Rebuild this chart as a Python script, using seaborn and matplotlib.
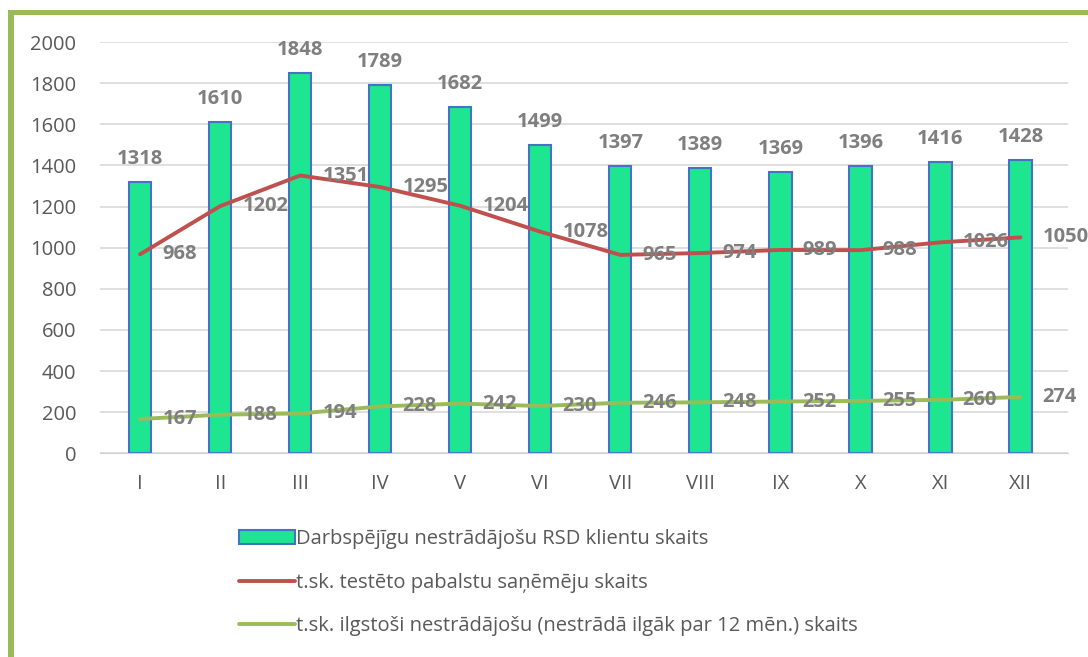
import numpy as np
import matplotlib
matplotlib.use("Agg")
import matplotlib.pyplot as plt
import seaborn as sns
from matplotlib.patches import Patch, Rectangle
from matplotlib.lines import Line2D

# data
months = ["I", "II", "III", "IV", "V", "VI", "VII", "VIII", "IX", "X", "XI", "XII"]
rsd_clients = [1318, 1610, 1848, 1789, 1682, 1499, 1397, 1389, 1369, 1396, 1416, 1428]
tested_benefit = [968, 1202, 1351, 1295, 1204, 1078, 965, 974, 989, 988, 1026, 1050]
long_term = [167, 188, 194, 228, 242, 230, 246, 248, 252, 255, 260, 274]

label_bar = "Darbspējīgu nestrādājošu RSD klientu skaits"
label_red = "t.sk. testēto pabalstu saņēmēju skaits"
label_green = "t.sk. ilgstoši nestrādājošu (nestrādā ilgāk par 12 mēn.) skaits"

bar_color = "#1ee590"
bar_edge = "#4472c4"
red = "#c0504d"
green = "#9bbb59"
grey_txt = "#595959"
lbl_txt = "#7f7f7f"

sns.set_style("white")
plt.rcParams["font.family"] = ["Open Sans", "DejaVu Sans"]

fig = plt.figure(figsize=(10.88, 6.57), dpi=100)
ax = fig.add_axes([0.092, 0.310, 0.890, 0.626])

sns.barplot(x=months, y=rsd_clients, color=bar_color, edgecolor=bar_edge,
            linewidth=1.5, width=0.28, saturation=1, ax=ax, zorder=2)
x = np.arange(len(months))
sns.lineplot(x=x, y=tested_benefit, color=red, linewidth=2.8, ax=ax, zorder=3)
sns.lineplot(x=x, y=long_term, color=green, linewidth=2.8, ax=ax, zorder=3)

# data labels
for i, v in enumerate(rsd_clients):
    ax.annotate(str(v), (i, v), xytext=(0, 13), textcoords="offset points",
                ha="center", va="baseline", fontsize=14.5, fontweight="bold",
                color=lbl_txt, annotation_clip=False)
for series in (tested_benefit, long_term):
    for i, v in enumerate(series):
        ax.annotate(str(v), (i, v), xytext=(16, 0), textcoords="offset points",
                    ha="left", va="center", fontsize=14.5, fontweight="bold",
                    color=lbl_txt, annotation_clip=False, zorder=4)

ax.set_ylim(0, 2000)
ax.set_xlim(-0.5, 11.6)
ax.set_yticks(range(0, 2001, 200))
ax.yaxis.grid(True, color="#d9d9d9", linewidth=1.2, zorder=0)
ax.set_axisbelow(True)
for s in ["top", "right", "left"]:
    ax.spines[s].set_visible(False)
ax.spines["bottom"].set_color("#d0d0d0")
ax.tick_params(axis="y", length=0, pad=17, labelsize=14.5, labelcolor=grey_txt)
ax.tick_params(axis="x", length=0, pad=15, labelsize=14.5, labelcolor=grey_txt)

handles = [
    Patch(facecolor=bar_color, edgecolor=bar_edge, linewidth=1.5),
    Line2D([], [], color=red, linewidth=2.8),
    Line2D([], [], color=green, linewidth=2.8),
]
fig.legend(handles, [label_bar, label_red, label_green], loc="upper left",
           bbox_to_anchor=(0.212, 0.207), frameon=False, fontsize=14.5,
           labelcolor=grey_txt, handlelength=2.8, handletextpad=0.05,
           labelspacing=1.17, borderaxespad=0)

# green frame around the chart (left and top edges visible)
fig.add_artist(Rectangle((8 / 1088, 0), 6 / 1088, 1 - 10 / 657,
                         transform=fig.transFigure, color=green, lw=0))
fig.add_artist(Rectangle((8 / 1088, 1 - 15 / 657), 1, 5 / 657,
                         transform=fig.transFigure, color=green, lw=0))

fig.savefig("out.png", dpi=100)
